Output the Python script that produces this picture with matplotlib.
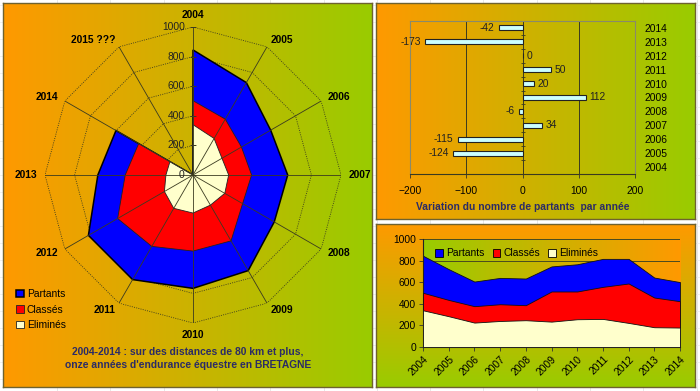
import numpy as np
import matplotlib
matplotlib.use("Agg")
import matplotlib.pyplot as plt
from matplotlib.patches import Patch
from matplotlib.colors import to_rgb

plt.rcParams['font.family'] = ['Liberation Sans', 'DejaVu Sans']

# ---------------- data ----------------
years = ['2004', '2005', '2006', '2007', '2008', '2009', '2010', '2011', '2012', '2013', '2014']
radar_labels = years + ['2015 ???']
partants = [845, 721, 606, 640, 634, 746, 766, 816, 816, 643, 601]
classes = [502, 436, 378, 396, 387, 514, 514, 557, 588, 458, 424]
elimines = [340, 285, 226, 241, 248, 235, 257, 260, 223, 183, 180]
future_value = 0  # '2015 ???'
variation = [None, -124, -115, 34, -6, 112, 20, 50, 0, -173, -42]

ORANGE = '#FF9900'
GREEN = '#99CC00'
BLUE = '#0000FF'
RED = '#FF0000'
CREAM = '#FFFFCC'
NAVY = '#2B2B66'
DARK = '#333333'
FS = 7.4

W, H = 700, 391
fig = plt.figure(figsize=(W / 100, H / 100), dpi=100)
fig.patch.set_facecolor('white')


def rect(x0, y0, x1, y1):
    return [x0 / W, 1 - y1 / H, (x1 - x0) / W, (y1 - y0) / H]


def gradient(c1, c2, horizontal=True, n=256):
    a, b = np.array(to_rgb(c1)), np.array(to_rgb(c2))
    t = np.linspace(0, 1, n)[:, None]
    g = a * (1 - t) + b * t
    if horizontal:
        return g[None, :, :]
    return g[:, None, :]


# spreadsheet-like faint grid
bg = fig.add_axes([0, 0, 1, 1])
bg.set_xlim(0, W)
bg.set_ylim(H, 0)
bg.axis('off')
for x in np.arange(57, W, 53.3):
    bg.axvline(x, color='#E4E4E4', lw=0.6)
for y in np.arange(5, H, 17):
    bg.axhline(y, color='#EEEEEE', lw=0.6)


def panel(x0, y0, x1, y1, c1, c2, horizontal=True):
    a = fig.add_axes(rect(x0, y0, x1, y1))
    a.imshow(gradient(c1, c2, horizontal), aspect='auto', extent=(0, 1, 0, 1), interpolation='bilinear')
    a.set_xlim(0, 1)
    a.set_ylim(0, 1)
    a.set_xticks([])
    a.set_yticks([])
    for s in a.spines.values():
        s.set_color('#6E6230')
        s.set_linewidth(1.0)
    return a


panel(3, 3, 372, 387, ORANGE, GREEN, True)
panel(376, 3, 695, 219, ORANGE, GREEN, True)
panel(376, 224, 695, 387, ORANGE, GREEN, False)

# ---------------- radar ----------------
cx, cy, R = 193, 175, 148
axr = fig.add_axes(rect(cx - R, cy - R, cx + R, cy + R), projection='polar')
axr.set_theta_zero_location('N')
axr.set_theta_direction(-1)
axr.patch.set_alpha(0)
axr.spines['polar'].set_visible(False)
axr.grid(False)
axr.set_xticks([])
axr.set_yticks([])
axr.set_ylim(0, 1000)

n = len(radar_labels)
theta = np.arange(n) * 2 * np.pi / n
theta_c = np.append(theta, theta[0])


def closed(vals):
    v = list(vals) + [future_value]
    return v + [v[0]]


for r in [200, 400, 600, 800, 1000]:
    axr.plot(theta_c, [r] * (n + 1), ls=(0, (1.2, 1.5)), color='#3A3A20', lw=0.6, zorder=1)

hb = axr.fill(theta_c, closed(partants), facecolor=BLUE, edgecolor='black', lw=1.1, zorder=2)[0]
hr = axr.fill(theta_c, closed(classes), facecolor=RED, edgecolor='#222222', lw=0.6, zorder=3)[0]
hw = axr.fill(theta_c, closed(elimines), facecolor=CREAM, edgecolor='#222222', lw=0.6, zorder=4)[0]

for t in theta:
    axr.plot([t, t], [0, 1000], color='#3A3A20', lw=0.6, zorder=5)

for r in [0, 200, 400, 600, 800, 1000]:
    axr.annotate(str(r), xy=(0, r), xytext=(-6, 0), textcoords='offset points',
                 ha='right', va='center', fontsize=FS, color='#222222', zorder=6)
axr.plot([0] * 6, [0, 200, 400, 600, 800, 1000], ls='none', marker='_', ms=4,
         color='#3A3A20', mew=0.6, zorder=6)

for t, lab in zip(theta, radar_labels):
    s, c = np.sin(t), np.cos(t)
    ha = 'left' if s > 0.1 else ('right' if s < -0.1 else 'center')
    va = 'center'
    if abs(s) <= 0.1:
        va = 'bottom' if c > 0 else 'top'
    axr.text(t, 1050, lab, ha=ha, va=va, fontsize=FS, fontweight='bold', color='black')

fig.legend([hb, hr, hw], ['Partants', 'Classés', 'Eliminés'],
           loc='upper left', bbox_to_anchor=(16 / W, 1 - 289 / H), frameon=False,
           fontsize=FS, handlelength=0.75, handleheight=0.75, handletextpad=0.3,
           labelspacing=0.55, borderpad=0, borderaxespad=0)

fig.text(188 / W, 1 - 352 / H, '2004-2014 : sur des distances de 80 km et plus,',
         ha='center', va='center', fontsize=FS, fontweight='bold', color=NAVY)
fig.text(188 / W, 1 - 365 / H, "onze années d'endurance équestre en BRETAGNE",
         ha='center', va='center', fontsize=FS, fontweight='bold', color=NAVY)

# ---------------- variation bars ----------------
axb = fig.add_axes(rect(410, 21, 635, 174))
axb.patch.set_alpha(0)
ypos = np.arange(len(years))
for i, v in enumerate(variation):
    if v is None:
        continue
    axb.barh(i, v, height=0.36, color='#CCFFFF', edgecolor='#222222', lw=0.8, zorder=3)
    off = 3 if v >= 0 else -3
    axb.annotate(str(v), xy=(v, i), xytext=(off, 0), textcoords='offset points',
                 ha='left' if v >= 0 else 'right', va='center', fontsize=FS, color='#222222')
axb.set_xlim(-200, 200)
axb.set_ylim(-0.5, len(years) - 0.5)
axb.set_xticks([-200, -100, 0, 100, 200])
axb.tick_params(axis='x', labelsize=FS, length=3, width=0.6, color=DARK, pad=6)
axb.yaxis.tick_right()
axb.set_yticks(ypos)
axb.set_yticklabels(years)
axb.tick_params(axis='y', labelsize=FS, length=0, pad=7)
for xg in [-100, 100]:
    axb.axvline(xg, color='#3A3A20', lw=0.7, zorder=1)
axb.axvline(0, color='#3A3A20', lw=0.7, zorder=2)
axb.plot([0] * (len(years) + 1), np.arange(len(years) + 1) - 0.5, ls='none', marker='_',
         ms=3, mew=0.6, color='#3A3A20', zorder=2)
for k in ['left', 'top', 'right']:
    axb.spines[k].set_color('#8A8A6A')
    axb.spines[k].set_linewidth(0.8)
axb.spines['bottom'].set_color('#3A3A20')
axb.spines['bottom'].set_linewidth(0.8)
axb.set_xlabel('Variation du nombre de partants  par année', fontsize=FS,
               fontweight='bold', color=NAVY, labelpad=4)

# ---------------- area chart ----------------
axa = fig.add_axes(rect(423, 239, 680, 347))
xi = np.arange(len(years))
axa.imshow(gradient(GREEN, ORANGE, True), aspect='auto',
           extent=(0, len(years) - 1, 0, 1000), interpolation='bilinear', zorder=0)
for yg in [200, 400, 600, 800, 1000]:
    axa.axhline(yg, color='#4A4A20', lw=0.7, zorder=1)
axa.fill_between(xi, 0, partants, facecolor=BLUE, edgecolor='#111111', lw=0.6, zorder=2)
axa.fill_between(xi, 0, classes, facecolor=RED, edgecolor='#111111', lw=0.6, zorder=3)
axa.fill_between(xi, 0, elimines, facecolor=CREAM, edgecolor='#111111', lw=0.6, zorder=4)
axa.set_xlim(0, len(years) - 1)
axa.set_ylim(0, 1000)
axa.set_yticks([0, 200, 400, 600, 800, 1000])
axa.set_xticks(xi)
axa.set_xticklabels(years, rotation=45, ha='right', va='top', rotation_mode='anchor')
axa.tick_params(labelsize=FS, length=3, width=0.6, color=DARK, pad=2)
for k in ['top', 'right']:
    axa.spines[k].set_visible(False)
for k in ['left', 'bottom']:
    axa.spines[k].set_color('#222222')
    axa.spines[k].set_linewidth(0.8)
axa.legend([Patch(facecolor=BLUE, edgecolor='black', lw=0.6),
            Patch(facecolor=RED, edgecolor='black', lw=0.6),
            Patch(facecolor=CREAM, edgecolor='black', lw=0.6)],
           ['Partants', 'Classés', 'Eliminés'], ncol=3, loc='upper left',
           bbox_to_anchor=(0.02, 0.98), frameon=False, fontsize=FS,
           handlelength=0.75, handleheight=0.75, handletextpad=0.3,
           columnspacing=0.8, borderpad=0.2)

fig.savefig('out.png', dpi=100)
